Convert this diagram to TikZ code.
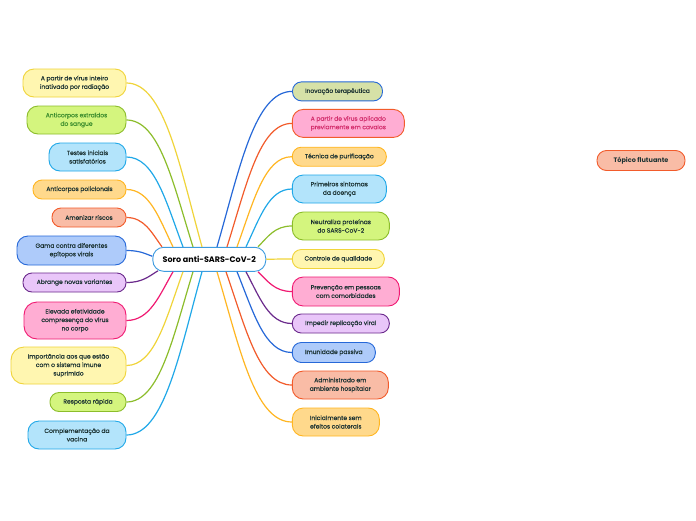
\documentclass[tikz,border=0pt]{standalone}
\usepackage{fontspec}
\setmainfont{Poppins}
\newfontfamily\nodefont{Poppins}[FakeBold=0.35]
\usetikzlibrary{calc}
\definecolor{yelF}{HTML}{FFF6B0}\definecolor{yelD}{HTML}{F0D43A}
\definecolor{grnF}{HTML}{D4F57E}\definecolor{grnD}{HTML}{8CBD2B}
\definecolor{lbF}{HTML}{B3E4FB}\definecolor{lbD}{HTML}{20A8E8}
\definecolor{orF}{HTML}{FFD98C}\definecolor{orD}{HTML}{FFB622}
\definecolor{salF}{HTML}{F9BCA6}\definecolor{salD}{HTML}{F25B2B}
\definecolor{bluF}{HTML}{AECBFA}\definecolor{bluD}{HTML}{2668D8}
\definecolor{purF}{HTML}{E9C6F9}\definecolor{purD}{HTML}{6B2A8C}
\definecolor{pnkF}{HTML}{FFADD3}\definecolor{pnkD}{HTML}{F01A72}
\definecolor{olvF}{HTML}{D6E1A7}
\definecolor{txt}{HTML}{1C3333}
\definecolor{grnT}{HTML}{3F8F2F}
\definecolor{pnkT}{HTML}{D42F6E}
\definecolor{rootD}{HTML}{3D9BE0}
\newcommand\linkto[3]{\draw[link, draw=#1] let \p1=(#2), \p2=(#3) in (\p1) .. controls ({0.7*\x1+0.3*\x2},{0.5*\y1+0.5*\y2}) and ({0.5*\x1+0.5*\x2},{\y2}) .. (\p2);}
\tikzset{
  box/.style={line width=0.9pt, align=center, inner sep=0pt, font=\nodefont\fontsize{6}{8.5}\selectfont, text=txt},
  one/.style={box, minimum height=19pt, rounded corners=9pt},
  two/.style={box, minimum height=28pt, rounded corners=11pt},
  three/.style={box, minimum height=37pt, rounded corners=13pt},
  link/.style={line width=1.2pt},
}
\begin{document}
\begin{tikzpicture}[x=1pt,y=-1pt]
\fill[white] (0,0) rectangle (696,520);
\useasboundingbox (0,0) rectangle (696,520);
% root
\node[box, draw=rootD, fill=white, minimum width=113pt, minimum height=24pt, rounded corners=11pt, font=\fontsize{8}{10}\selectfont\bfseries, text=black] (root) at (209.3,259.3) {Soro anti-SARS-CoV-2};
% left
\node[two, fill=yelF, draw=yelD, minimum width=103pt] (L1) at (74.5,83) {A partir de vírus inteiro\\inativado por radiação};
\node[two, fill=grnF, draw=grnD, minimum width=99pt, text=grnT] (L2) at (76.5,120) {Anticorpos extraídos\\do sangue};
\node[two, fill=lbF, draw=lbD, minimum width=77pt] (L3) at (87.5,157) {Testes iniciais\\satisfatórios};
\node[one, fill=orF, draw=orD, minimum width=93pt] (L4) at (79.5,189.5) {Anticorpos policlonais};
\node[one, fill=salF, draw=salD, minimum width=74pt] (L5) at (89,217.5) {Amenizar riscos};
\node[two, fill=bluF, draw=bluD, minimum width=109pt, minimum height=29pt] (L6) at (71.5,250.5) {Gama contra diferentes\\epítopos virais};
\node[one, fill=purF, draw=purD, minimum width=103pt] (L7) at (74.5,282.5) {Abrange novas variantes};
\node[three, fill=pnkF, draw=pnkD, minimum width=102pt] (L8) at (75,320.5) {Elevada efetividade\\compresença do vírus\\no corpo};
\node[three, fill=yelF, draw=yelD, minimum width=115pt] (L9) at (68.5,365.5) {Importância aos que estão\\com o sistema imune\\suprimido};
\node[one, fill=grnF, draw=grnD, minimum width=76pt] (L10) at (88,402) {Resposta rápida};
\node[two, fill=lbF, draw=lbD, minimum width=98pt] (L11) at (77,435) {Complementação da\\vacina};
% right
\node[one, fill=olvF, draw=bluD, minimum width=90pt] (R1) at (337.5,91.4) {Inovação terapêutica};
\node[two, fill=pnkF, draw=salD, minimum width=112pt, text=pnkT] (R2) at (348.3,123.4) {A partir de vírus aplicado\\previamente em cavalos};
\node[one, fill=orF, draw=orD, minimum width=94pt] (R3) at (339.3,156.7) {Técnica de purificação};
\node[two, fill=lbF, draw=lbD, minimum width=94pt] (R4) at (339.3,189) {Primeiros sintomas\\da doença};
\node[two, fill=grnF, draw=grnD, minimum width=97pt] (R5) at (340.8,226) {Neutraliza proteínas\\do SARS-CoV-2};
\node[one, fill=yelF, draw=yelD, minimum width=92pt] (R6) at (338.3,259) {Controle de qualidade};
\node[two, fill=pnkF, draw=pnkD, minimum width=107pt, minimum height=29pt] (R7) at (345.8,291.5) {Prevenção em pessoas\\com comorbidades};
\node[one, fill=purF, draw=purD, minimum width=97pt] (R8) at (340.8,323.5) {Impedir replicação viral};
\node[one, fill=bluF, draw=bluD, minimum width=83pt, minimum height=20pt] (R9) at (333.8,352.5) {Imunidade passiva};
\node[two, fill=salF, draw=salD, minimum width=96pt] (R10) at (340.3,385) {Administrado em\\ambiente hospitalar};
\node[two, fill=orF, draw=orD, minimum width=87pt] (R11) at (335.8,422) {Inicialmente sem\\efeitos colaterais};
% floating
\node[box, fill=salF, draw=salD, minimum width=88pt, minimum height=20pt, rounded corners=9.5pt, font=\fontsize{6.5}{8}\selectfont\bfseries] (F) at (641,160.5) {Tópico flutuante};
% start points
\coordinate (sL1) at ([xshift=-7.3pt]root.north);
\coordinate (sL2) at ([xshift=-16.3pt]root.north);
\coordinate (sL3) at ([xshift=-26.3pt]root.north);
\coordinate (sL4) at ([xshift=-36.3pt]root.north);
\coordinate (sL5) at ([xshift=-47.3pt]root.north);
\coordinate (sL6) at ([yshift=3pt]root.west);
\coordinate (sL7) at ([xshift=-51.3pt,yshift=1pt]root.south);
\coordinate (sL8) at ([xshift=-36.3pt]root.south);
\coordinate (sL9) at ([xshift=-26.3pt]root.south);
\coordinate (sL10) at ([xshift=-16.3pt]root.south);
\coordinate (sL11) at ([xshift=-7.3pt]root.south);
\coordinate (sR1) at ([xshift=7.7pt]root.north);
\coordinate (sR2) at ([xshift=17.7pt]root.north);
\coordinate (sR3) at ([xshift=27.7pt]root.north);
\coordinate (sR4) at ([xshift=36.7pt]root.north);
\coordinate (sR5) at ([xshift=48.7pt]root.north);
\coordinate (sR6) at (root.east);
\coordinate (sR7) at ([xshift=48.7pt]root.south);
\coordinate (sR8) at ([xshift=36.7pt]root.south);
\coordinate (sR9) at ([xshift=27.7pt]root.south);
\coordinate (sR10) at ([xshift=16.7pt]root.south);
\coordinate (sR11) at ([xshift=7.7pt]root.south);
% links
\linkto{yelD}{sL1}{L1.east}
\linkto{grnD}{sL2}{L2.east}
\linkto{lbD}{sL3}{L3.east}
\linkto{orD}{sL4}{L4.east}
\linkto{salD}{sL5}{L5.east}
\linkto{bluD}{sL6}{L6.east}
\linkto{purD}{sL7}{L7.east}
\linkto{pnkD}{sL8}{L8.east}
\linkto{yelD}{sL9}{L9.east}
\linkto{grnD}{sL10}{L10.east}
\linkto{lbD}{sL11}{L11.east}
\linkto{bluD}{sR1}{R1.west}
\linkto{salD}{sR2}{R2.west}
\linkto{orD}{sR3}{R3.west}
\linkto{lbD}{sR4}{R4.west}
\linkto{grnD}{sR5}{R5.west}
\linkto{yelD}{sR6}{R6.west}
\linkto{pnkD}{sR7}{R7.west}
\linkto{purD}{sR8}{R8.west}
\linkto{bluD}{sR9}{R9.west}
\linkto{salD}{sR10}{R10.west}
\linkto{orD}{sR11}{R11.west}
\end{tikzpicture}
\end{document}
